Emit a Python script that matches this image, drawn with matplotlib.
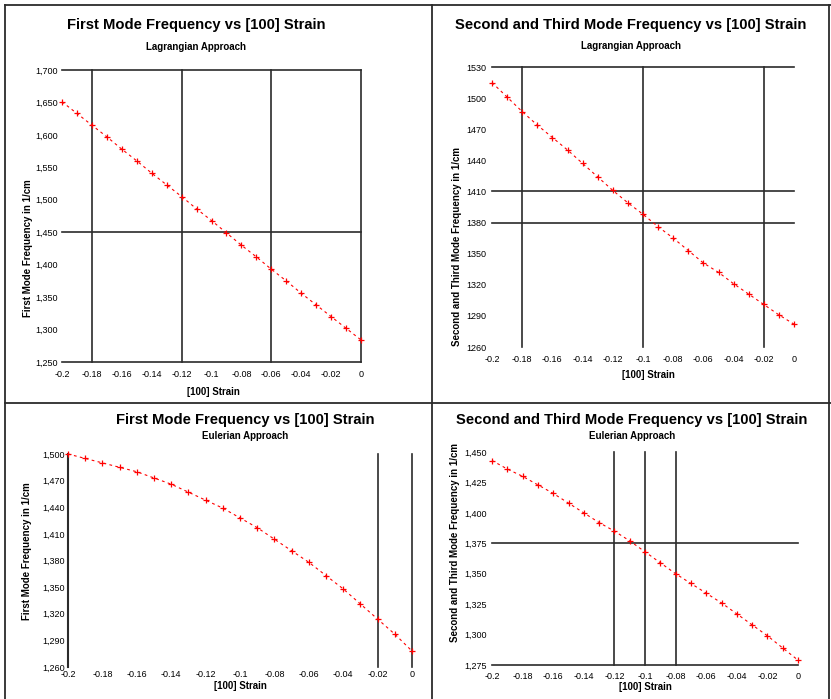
import matplotlib.pyplot as plt
from matplotlib.lines import Line2D

plt.rcParams['font.family'] = ['Liberation Sans', 'DejaVu Sans']

W, H = 831, 699

# strain steps, shared by all four panels
strain = [-0.2, -0.19, -0.18, -0.17, -0.16, -0.15, -0.14, -0.13, -0.12, -0.11, -0.1,
          -0.09, -0.08, -0.07, -0.06, -0.05, -0.04, -0.03, -0.02, -0.01, 0.0]

# frequencies in 1/cm
lag_first = [1651, 1633, 1615, 1597, 1578, 1560, 1541, 1523, 1505, 1486, 1468,
             1449, 1430, 1412, 1393, 1375, 1356, 1338, 1320, 1302, 1284]
lag_second = [1515, 1501, 1487, 1474, 1462, 1450, 1437, 1424, 1411, 1399, 1388,
              1376, 1365, 1353, 1341, 1332, 1321, 1311, 1301, 1291, 1282]
eul_first = [1500, 1495, 1490, 1485, 1480, 1473, 1466, 1457, 1448, 1439, 1428,
             1417, 1404, 1391, 1378, 1363, 1348, 1331, 1314, 1297, 1278]
eul_second = [1443, 1436, 1430, 1423, 1416, 1408, 1400, 1392, 1385, 1377, 1368,
              1359, 1350, 1342, 1334, 1326, 1317, 1308, 1299, 1289, 1279]

x_ticks = [-0.2, -0.18, -0.16, -0.14, -0.12, -0.1, -0.08, -0.06, -0.04, -0.02, 0]
x_tick_labels = ['-0.2', '-0.18', '-0.16', '-0.14', '-0.12', '-0.1', '-0.08',
                 '-0.06', '-0.04', '-0.02', '0']

lag_first_ticks = [1250, 1300, 1350, 1400, 1450, 1500, 1550, 1600, 1650, 1700]
lag_second_ticks = [1260, 1290, 1320, 1350, 1380, 1410, 1440, 1470, 1500, 1530]
eul_first_ticks = [1260, 1290, 1320, 1350, 1380, 1410, 1440, 1470, 1500]
eul_second_ticks = [1275, 1300, 1325, 1350, 1375, 1400, 1425, 1450]

titles = ['First Mode Frequency vs [100] Strain',
          'Second and Third Mode Frequency vs [100] Strain',
          'First Mode Frequency vs [100] Strain',
          'Second and Third Mode Frequency vs [100] Strain']
subtitles = ['Lagrangian Approach', 'Lagrangian Approach',
             'Eulerian Approach', 'Eulerian Approach']
ylabels = ['First Mode Frequency in 1/cm', 'Second and Third Mode Frequency in 1/cm',
           'First Mode Frequency in 1/cm', 'Second and Third Mode Frequency in 1/cm']

LINE = '#2b2b2b'

fig = plt.figure(figsize=(W / 100, H / 100), dpi=100)


def fx(px):
    return px / W


def fy(py):
    return 1 - py / H


def make_axes(left, top, right, bottom):
    return fig.add_axes([fx(left), fy(bottom), fx(right - left), (bottom - top) / H])


def panel(ax, y, yticks, ylim, comma, hlines, vlines, xpad, ypad, left_spine=False):
    ax.plot(strain, y, color='red', ls=(0, (2.5, 3)), lw=0.8,
            marker='+', ms=4, mew=0.9, clip_on=False, zorder=3)
    ax.set_xlim(-0.2, 0)
    ax.set_ylim(*ylim)
    for s in ax.spines.values():
        s.set_visible(False)
    for h in hlines:
        ax.axhline(h, color=LINE, lw=1.2, zorder=1, clip_on=False)
    for v in vlines:
        ax.axvline(v, color=LINE, lw=1.2, zorder=1, clip_on=False)
    if left_spine:
        ax.axvline(-0.2, color=LINE, lw=1.5, zorder=1, clip_on=False)
    ax.set_xticks(x_ticks)
    ax.set_xticklabels(x_tick_labels)
    ax.set_yticks(yticks)
    if comma:
        ax.set_yticklabels([f'{t:,}' for t in yticks])
    else:
        ax.set_yticklabels([str(t) for t in yticks])
    ax.tick_params(length=0, labelsize=6.5)
    ax.tick_params(axis='x', pad=xpad)
    ax.tick_params(axis='y', pad=ypad)
    ax.set_facecolor('none')


# Lagrangian, first mode
ax1 = make_axes(62, 70, 361, 362)
panel(ax1, lag_first, lag_first_ticks, (1250, 1700), True,
      [1700, 1450, 1250], [-0.18, -0.12, -0.06, 0], 6, 3)

# Lagrangian, second and third mode
ax2 = make_axes(492, 67, 794, 347)
panel(ax2, lag_second, lag_second_ticks, (1260, 1530), False,
      [1530, 1410, 1380], [-0.18, -0.1, -0.02], 6, 4)

# Eulerian, first mode
ax3 = make_axes(68, 454, 412, 667)
panel(ax3, eul_first, eul_first_ticks, (1260, 1500), True,
      [], [-0.02, 0], 2, 2, left_spine=True)

# Eulerian, second and third mode
ax4 = make_axes(492, 452, 798, 665)
panel(ax4, eul_second, eul_second_ticks, (1275, 1450), True,
      [1375, 1275], [-0.12, -0.1, -0.08], 5, 4)

axes = [ax1, ax2, ax3, ax4]
title_pos = [(196, 25, 47), (631, 25, 46), (245, 420, 436), (632, 420, 436)]
ylab_pos = [(28, 248), (457, 247), (27, 551), (455, 543)]
xlab_pos = [(213, 392), (648, 375), (240, 686), (645, 687)]

for t, st, yl, (cx, ty, sy), (lx, ly), (bx, by) in zip(titles, subtitles, ylabels,
                                                      title_pos, ylab_pos, xlab_pos):
    fig.text(fx(cx), fy(ty), t, ha='center', va='center', fontsize=10.6,
             fontweight='bold')
    fig.text(fx(cx), fy(sy), st, ha='center', va='center', fontsize=7,
             fontweight='bold')
    fig.text(fx(lx), fy(ly), yl, rotation=90, ha='center', va='center',
             fontsize=7, fontweight='bold')
    fig.text(fx(bx), fy(by), '[100] Strain', ha='center', va='center',
             fontsize=7, fontweight='bold')

# frame around the four panels
frame = [([fx(5), fx(831)], [fy(5), fy(5)]),
         ([fx(5), fx(5)], [fy(5), fy(699)]),
         ([fx(432), fx(432)], [fy(5), fy(699)]),
         ([fx(5), fx(831)], [fy(403), fy(403)]),
         ([fx(829), fx(829)], [fy(5), fy(699)])]
for xs, ys in frame:
    fig.add_artist(Line2D(xs, ys, color=LINE, lw=1.3))

fig.savefig('out.png', dpi=100)
